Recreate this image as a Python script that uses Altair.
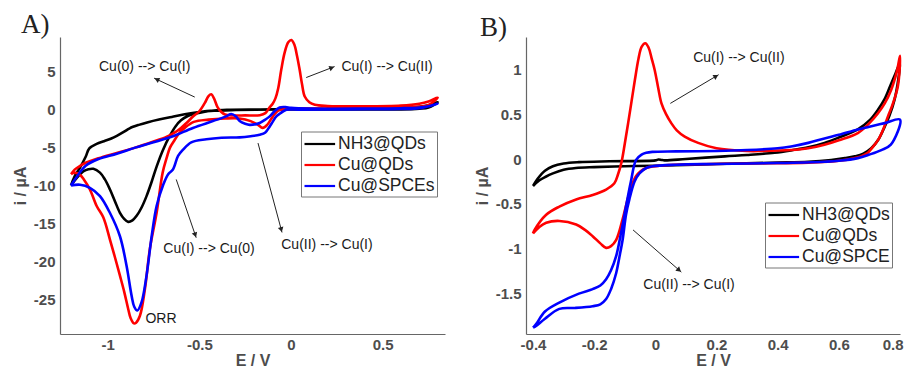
import math
import altair as alt
import pandas as pd

# ---------------- Panel A data (E / V, i / uA) ----------------
A_SERIES = ["NH3@QDs", "Cu@QDs", "Cu@SPCEs"]
COLORS = ["#000000", "#ff0000", "#0000ff"]

A_NH3_E_FWD = [-1.20, -1.18, -1.15, -1.12, -1.10, -1.06, -1.02, -0.98, -0.95, -0.91, -0.88, -0.83, -0.78, -0.72,
               -0.65, -0.58, -0.50, -0.42, -0.30, -0.10, 0.10, 0.30, 0.50, 0.62, 0.70, 0.75, 0.80]
A_NH3_I_FWD = [-10.0, -8.8, -7.6, -6.2, -5.1, -4.5, -4.15, -3.8, -3.45, -2.9, -2.45, -2.0, -1.65, -1.3,
               -0.95, -0.6, -0.3, -0.12, -0.03, 0.05, 0.08, 0.1, 0.15, 0.25, 0.4, 0.6, 1.0]
A_NH3_E_REV = [0.80, 0.75, 0.70, 0.60, 0.40, 0.20, 0.00, -0.20, -0.35, -0.42, -0.47, -0.52, -0.56, -0.60, -0.63,
               -0.66, -0.70, -0.733, -0.76, -0.788, -0.815, -0.842, -0.865, -0.888, -0.91, -0.933, -0.96, -0.988,
               -1.015, -1.042, -1.078, -1.105, -1.131, -1.165, -1.20]
A_NH3_I_REV = [0.6, 0.3, 0.15, 0.05, 0.03, 0.03, 0.03, 0.02, -0.02, -0.1, -0.25, -0.5, -0.8, -1.4, -2.2,
               -3.4, -5.4, -7.5, -9.5, -11.4, -12.9, -14.0, -14.6, -14.8, -14.4, -13.6, -12.1, -10.5,
               -9.2, -8.3, -7.8, -7.85, -8.1, -8.9, -10.0]

A_CUQ_E_FWD = [-1.20, -1.18, -1.15, -1.12, -1.05, -0.95, -0.85, -0.75, -0.68, -0.64, -0.60, -0.57, -0.53, -0.50,
               -0.47, -0.45, -0.435, -0.42, -0.40, -0.38, -0.36, -0.32, -0.25, -0.17, -0.14, -0.12, -0.10, -0.085,
               -0.07, -0.053, -0.035, -0.015, 0.002, 0.018, 0.033, 0.047, 0.06, 0.075, 0.10, 0.13, 0.20, 0.40,
               0.60, 0.70, 0.75, 0.80]
A_CUQ_I_FWD = [-8.5, -7.9, -7.4, -7.0, -6.4, -5.7, -5.0, -4.2, -3.6, -3.1, -2.4, -1.75, -0.8, -0.2,
               0.9, 1.8, 2.05, 1.5, 0.3, -0.3, -0.62, -0.75, -0.75, -0.72, -0.45, 0.2, 0.8, 1.5,
               2.8, 5.3, 7.5, 8.9, 9.2, 8.6, 7.1, 5.3, 3.4, 1.75, 1.0, 0.66, 0.5, 0.45,
               0.55, 0.8, 1.1, 1.6]
A_CUQ_E_REV = [0.80, 0.75, 0.70, 0.60, 0.40, 0.20, 0.05, -0.03, -0.07, -0.09, -0.11, -0.13, -0.155, -0.18, -0.22,
               -0.28, -0.36, -0.45, -0.53, -0.58, -0.61, -0.64, -0.66, -0.68, -0.70, -0.733, -0.77, -0.797, -0.824,
               -0.845, -0.857, -0.875, -0.888, -0.91, -0.933, -0.96, -0.988, -1.024, -1.06, -1.097, -1.13, -1.151,
               -1.18, -1.20]
A_CUQ_I_REV = [1.2, 0.6, 0.4, 0.3, 0.25, 0.2, 0.15, 0.1, -0.1, -0.6, -1.3, -2.0, -2.4, -2.0, -1.5,
               -1.15, -1.15, -1.3, -1.6, -2.4, -3.1, -4.2, -5.0, -6.5, -8.3, -13.6, -18.4, -23.7, -27.2,
               -28.1, -28.2, -27.5, -26.3, -24.0, -21.9, -19.5, -17.1, -14.2, -12.7, -10.5, -9.2, -8.6,
               -8.3, -8.5]

A_CUS_E_FWD = [-1.20, -1.17, -1.12, -1.05, -0.95, -0.85, -0.75, -0.644, -0.535, -0.426, -0.353, -0.326, -0.30,
               -0.28, -0.25, -0.225, -0.19, -0.171, -0.14, -0.116, -0.09, -0.062, -0.03, 0.00, 0.10, 0.40, 0.60,
               0.70, 0.76, 0.80]
A_CUS_I_FWD = [-10.0, -8.9, -7.4, -6.5, -5.8, -5.0, -4.3, -3.5, -2.4, -1.5, -0.88, -0.57, -0.9,
               -1.5, -1.85, -2.0, -1.9, -1.75, -1.3, -0.88, -0.2, 0.3, 0.35, 0.25, 0.15, 0.15, 0.2,
               0.3, 0.5, 0.8]
A_CUS_E_REV = [0.80, 0.70, 0.60, 0.30, 0.05, -0.025, -0.06, -0.08, -0.10, -0.116, -0.14, -0.171, -0.22, -0.28,
               -0.38, -0.462, -0.544, -0.59, -0.616, -0.644, -0.67, -0.697, -0.733, -0.76, -0.788, -0.815, -0.838,
               -0.855, -0.869, -0.897, -0.933, -0.988, -1.042, -1.097, -1.151, -1.20]
A_CUS_I_REV = [0.5, 0.2, 0.1, 0.05, 0.0, 0.0, -0.5, -0.88, -1.6, -2.2, -3.0, -3.3, -3.5, -3.65,
               -3.7, -3.9, -4.3, -5.3, -6.1, -7.9, -8.5, -9.9, -12.7, -16.7, -21.9, -25.4, -26.5,
               -26.0, -24.6, -20.6, -16.7, -13.6, -11.4, -10.3, -9.9, -10.0]

A_ANN_TEXT = ["Cu(0) --> Cu(I)", "Cu(I) --> Cu(II)", "Cu(I) --> Cu(0)", "Cu(II) --> Cu(I)", "ORR"]
A_ANN_E = [-0.798, 0.524, -0.447, 0.196, -0.709]
A_ANN_I = [5.7, 5.7, -18.4, -17.9, -27.6]
A_ARR_E1 = [-0.525, 0.083, -0.626, -0.18]
A_ARR_I1 = [1.67, 4.25, -9.2, -4.4]
A_ARR_E2 = [-0.747, 0.238, -0.517, -0.049]
A_ARR_I2 = [4.17, 5.7, -16.9, -16.2]

A_XTICKS = [-1, -0.5, 0, 0.5]
A_YTICKS = [-25, -20, -15, -10, -5, 0, 5]

# ---------------- Panel B data ----------------
B_SERIES = ["NH3@QDs", "Cu@QDs", "Cu@SPCE"]

B_NH3_E_FWD = [-0.40, -0.385, -0.361, -0.335, -0.30, -0.25, -0.15, 0.00, 0.01, 0.02, 0.03, 0.10, 0.227, 0.30,
               0.39, 0.45, 0.50, 0.553, 0.60, 0.662, 0.70, 0.728, 0.75, 0.771, 0.785, 0.80]
B_NH3_I_FWD = [-0.30, -0.22, -0.13, -0.08, -0.05, -0.035, -0.025, -0.015, -0.005, -0.01, -0.015, 0.0, 0.03, 0.045,
               0.07, 0.10, 0.13, 0.18, 0.24, 0.33, 0.43, 0.55, 0.67, 0.84, 0.95, 1.07]
B_NH3_E_REV = [0.80, 0.795, 0.782, 0.765, 0.75, 0.73, 0.706, 0.68, 0.652, 0.62, 0.575, 0.50, 0.40, 0.20, 0.00,
               -0.10, -0.20, -0.26, -0.30, -0.335, -0.36, -0.38, -0.40]
B_NH3_I_REV = [1.07, 0.9, 0.66, 0.48, 0.36, 0.22, 0.12, 0.06, 0.03, 0.01, -0.01, -0.03, -0.04, -0.055, -0.075,
               -0.08, -0.09, -0.10, -0.12, -0.16, -0.20, -0.24, -0.30]

B_CUQ_E_FWD = [-0.40, -0.395, -0.357, -0.314, -0.259, -0.205, -0.161, -0.134, -0.122, -0.111, -0.10, -0.089,
               -0.078, -0.067, -0.055, -0.045, -0.033, -0.022, -0.012, -0.002, 0.01, 0.02, 0.035, 0.052, 0.07,
               0.096, 0.14, 0.20, 0.30, 0.35, 0.444, 0.50, 0.553, 0.60, 0.662, 0.70, 0.728, 0.75, 0.771, 0.79, 0.80]
B_CUQ_I_FWD = [-0.83, -0.79, -0.62, -0.53, -0.45, -0.40, -0.34, -0.27, -0.17, -0.04, 0.17, 0.40,
               0.64, 0.88, 1.12, 1.25, 1.29, 1.24, 1.12, 0.99, 0.78, 0.62, 0.50, 0.40, 0.32,
               0.25, 0.18, 0.12, 0.09, 0.09, 0.10, 0.12, 0.16, 0.21, 0.29, 0.40, 0.51, 0.62, 0.77, 0.98, 1.15]
B_CUQ_E_REV = [0.80, 0.793, 0.775, 0.76, 0.745, 0.728, 0.71, 0.695, 0.672, 0.652, 0.60, 0.564, 0.50, 0.30, 0.10,
               0.013, -0.03, -0.063, -0.085, -0.107, -0.128, -0.145, -0.161, -0.18, -0.205, -0.23, -0.259, -0.314,
               -0.357, -0.38, -0.40]
B_CUQ_I_REV = [1.15, 0.81, 0.6, 0.47, 0.33, 0.21, 0.13, 0.07, 0.03, 0.01, -0.02, -0.03, -0.04, -0.05, -0.06,
               -0.075, -0.10, -0.19, -0.38, -0.67, -0.90, -0.97, -0.99, -0.94, -0.86, -0.79, -0.73, -0.69,
               -0.71, -0.76, -0.83]

B_CUS_E_FWD = [-0.40, -0.39, -0.361, -0.314, -0.25, -0.205, -0.18, -0.161, -0.145, -0.128, -0.112, -0.096,
               -0.08, -0.063, -0.045, -0.03, -0.01, 0.068, 0.20, 0.30, 0.40, 0.444, 0.50, 0.553, 0.60, 0.662,
               0.70, 0.75, 0.80]
B_CUS_I_FWD = [-1.88, -1.84, -1.70, -1.60, -1.50, -1.45, -1.41, -1.34, -1.24, -1.08, -0.82, -0.53,
               -0.25, -0.01, 0.05, 0.07, 0.08, 0.085, 0.09, 0.10, 0.12, 0.14, 0.18, 0.23, 0.27, 0.33,
               0.36, 0.40, 0.44]
B_CUS_E_REV = [0.80, 0.77, 0.739, 0.70, 0.662, 0.60, 0.553, 0.40, 0.20, 0.068, -0.009, -0.03, -0.052, -0.068,
               -0.085, -0.096, -0.107, -0.118, -0.128, -0.145, -0.161, -0.18, -0.205, -0.263, -0.314, -0.361,
               -0.39, -0.40]
B_CUS_I_REV = [0.23, 0.16, 0.10, 0.05, 0.01, -0.02, -0.03, -0.045, -0.055, -0.063, -0.08, -0.10, -0.16, -0.25,
               -0.45, -0.62, -0.90, -1.10, -1.27, -1.45, -1.56, -1.62, -1.64, -1.66, -1.67, -1.78,
               -1.86, -1.88]

B_ANN_TEXT = ["Cu(I) --> Cu(II)", "Cu(II) --> Cu(I)"]
B_ANN_E = [0.273, 0.11]
B_ANN_I = [1.13, -1.40]
B_ARR_E1 = [0.049, -0.073]
B_ARR_I1 = [0.62, -0.79]
B_ARR_E2 = [0.207, 0.085]
B_ARR_I2 = [0.94, -1.26]

B_XTICKS = [-0.4, -0.2, 0, 0.2, 0.4, 0.6, 0.8]
B_YTICKS = [-1.5, -1, -0.5, 0, 0.5, 1]

# ---------------- layout / style ----------------
GRAY = "#4d4d4d"
SANS = "Liberation Sans"
A_XDOM, A_YDOM, A_W, A_H = [-1.26, 0.84], [-29.6, 9.6], 385, 297
B_XDOM, B_YDOM, B_W, B_H = [-0.423, 0.80], [-1.95, 1.36], 374, 297
LEGEND_LINE = "M-1,0H2.4"   # legend swatch: a long stroke that starts at the symbol's left edge


def loops(names, parts):
    rows = []
    for name, (ef, i_f, er, ir) in zip(names, parts):
        es = ef + er[1:]
        is_ = i_f + ir[1:]
        for k, (e, i) in enumerate(zip(es, is_)):
            rows.append({"series": name, "E": e, "I": i, "idx": k})
    return pd.DataFrame(rows)


def arrows(e1, i1, e2, i2, xdom, ydom, w, h):
    rows = []
    for a, b, c, d in zip(e1, i1, e2, i2):
        dx = (c - a) / (xdom[1] - xdom[0]) * w
        dy = -(d - b) / (ydom[1] - ydom[0]) * h
        ang = math.degrees(math.atan2(dx, -dy)) % 360
        length = math.hypot(dx, dy)
        k = 3.0 / length
        rows.append({"E1": a, "I1": b, "E2": c, "I2": d, "ang": ang,
                     "HE": c - k * (c - a), "HI": d - k * (d - b)})
    return pd.DataFrame(rows)


def panel(df, ann, arr, names, xdom, ydom, w, h, xt, yt, label, tdx, lx, ly, flush):
    x = alt.X("E:Q", scale=alt.Scale(domain=xdom, nice=False, zero=False),
              axis=alt.Axis(values=xt, labelExpr="datum.value + ''", title="E / V", grid=False, ticks=False,
                            labelPadding=3, titlePadding=0, labelFlush=flush, labelFlushOffset=3,
                            labelFont=SANS, labelFontSize=15,
                            labelFontWeight="bold", labelColor=GRAY, titleFont=SANS, titleFontSize=16,
                            titleFontWeight="bold", titleColor=GRAY, domainColor="#666", domainWidth=1.2))
    y = alt.Y("I:Q", scale=alt.Scale(domain=ydom, nice=False, zero=False),
              axis=alt.Axis(values=yt, labelExpr="datum.value + ''", title="i / µA", grid=False, ticks=False,
                            labelPadding=5, titlePadding=5, labelFont=SANS, labelFontSize=15,
                            labelFontWeight="bold", labelColor=GRAY, titleFont=SANS, titleFontSize=16,
                            titleFontWeight="bold", titleColor=GRAY, domainColor="#666", domainWidth=1.2))
    lines = alt.Chart(df).mark_line(strokeWidth=2.6, interpolate="catmull-rom").encode(
        x=x, y=y,
        color=alt.Color("series:N", scale=alt.Scale(domain=names, range=COLORS), sort=names,
                        legend=alt.Legend(title=None, orient="none", legendX=lx, legendY=ly,
                                          strokeColor="#777", fillColor="white", padding=2,
                                          symbolType=LEGEND_LINE, symbolSize=324, symbolStrokeWidth=2.2,
                                          labelFont=SANS, labelFontSize=17.5, labelColor="#222",
                                          rowPadding=2, labelOffset=14)),
        order="idx:Q")
    rules = alt.Chart(arr).mark_rule(color="#222", strokeWidth=1).encode(
        x="E1:Q", y="I1:Q", x2="E2:Q", y2="I2:Q")
    heads = alt.Chart(arr).mark_point(shape="triangle-up", filled=True, size=32, color="#222", opacity=1).encode(
        x="HE:Q", y="HI:Q", angle=alt.Angle("ang:Q", scale=None))
    texts = alt.Chart(ann).mark_text(font=SANS, fontSize=14, color="#1a1a1a").encode(
        x="E:Q", y="I:Q", text="T:N")
    return alt.layer(lines, rules, heads, texts).properties(
        width=w, height=h,
        title=alt.TitleParams(label, anchor="start", frame="group", dx=tdx, font="Liberation Serif",
                              fontSize=27, fontWeight="normal", color="#222", offset=-4.5))


dfA = loops(A_SERIES, [(A_NH3_E_FWD, A_NH3_I_FWD, A_NH3_E_REV, A_NH3_I_REV),
                       (A_CUQ_E_FWD, A_CUQ_I_FWD, A_CUQ_E_REV, A_CUQ_I_REV),
                       (A_CUS_E_FWD, A_CUS_I_FWD, A_CUS_E_REV, A_CUS_I_REV)])
dfB = loops(B_SERIES, [(B_NH3_E_FWD, B_NH3_I_FWD, B_NH3_E_REV, B_NH3_I_REV),
                       (B_CUQ_E_FWD, B_CUQ_I_FWD, B_CUQ_E_REV, B_CUQ_I_REV),
                       (B_CUS_E_FWD, B_CUS_I_FWD, B_CUS_E_REV, B_CUS_I_REV)])
annA = pd.DataFrame({"T": A_ANN_TEXT, "E": A_ANN_E, "I": A_ANN_I})
annB = pd.DataFrame({"T": B_ANN_TEXT, "E": B_ANN_E, "I": B_ANN_I})
arrA = arrows(A_ARR_E1, A_ARR_I1, A_ARR_E2, A_ARR_I2, A_XDOM, A_YDOM, A_W, A_H)
arrB = arrows(B_ARR_E1, B_ARR_I1, B_ARR_E2, B_ARR_I2, B_XDOM, B_YDOM, B_W, B_H)

pA = panel(dfA, annA, arrA, A_SERIES, A_XDOM, A_YDOM, A_W, A_H, A_XTICKS, A_YTICKS, "A)", -39, 241, 94.5, False)
pB = panel(dfB, annB, arrB, B_SERIES, B_XDOM, B_YDOM, B_W, B_H, B_XTICKS, B_YTICKS, "B)", -46, 239, 165.5, True)

chart = alt.hconcat(pA, pB, spacing=81, bounds="flush").resolve_scale(color="independent").resolve_legend(
    color="independent").properties(padding={"left": 4, "top": 3, "right": 0, "bottom": 0}).configure_view(
    stroke=None)

chart.save("out.html", embed_options={"renderer": "svg", "actions": False})
